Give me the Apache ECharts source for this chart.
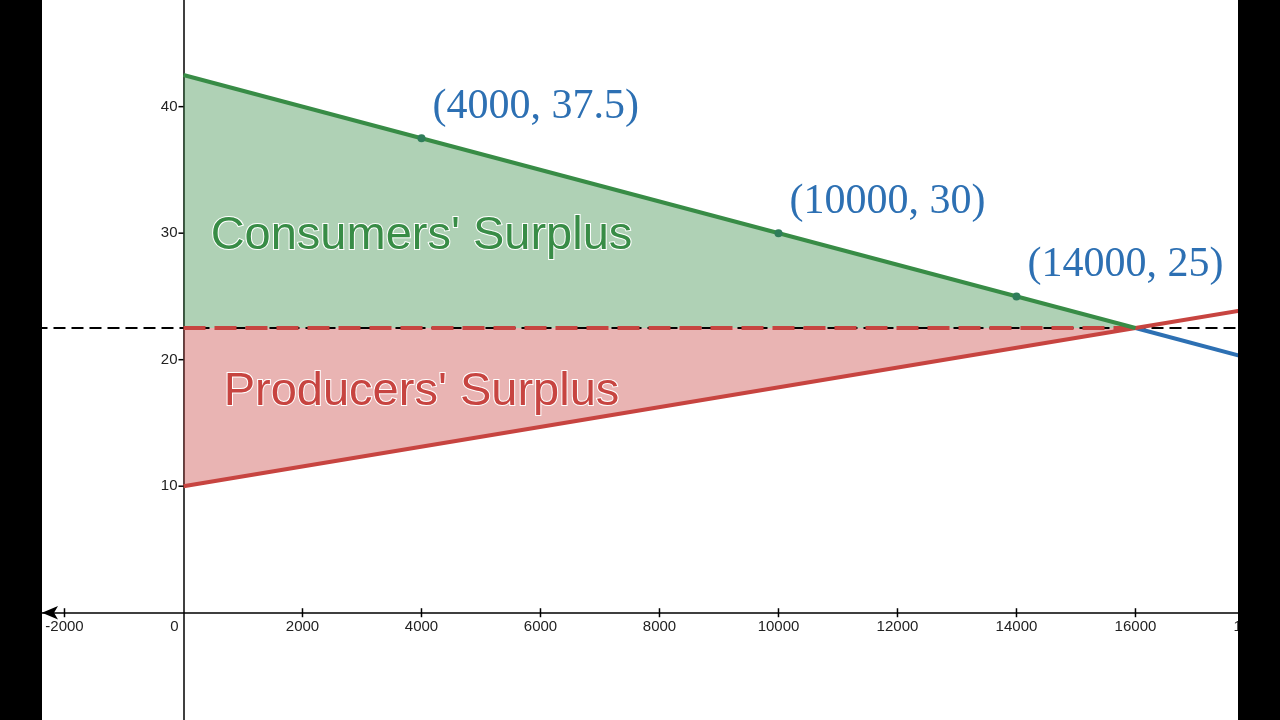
<!DOCTYPE html>
<html>
<head>
<meta charset="utf-8">
<script src="https://cdn.jsdelivr.net/npm/echarts@6/dist/echarts.min.js"></script>
<style>
html, body { margin: 0; padding: 0; background: #000; }
#chart { width: 1280px; height: 720px; }
</style>
</head>
<body>
<div id="chart"></div>
<script>
var xTicks = [-2000, 0, 2000, 4000, 6000, 8000, 10000, 12000, 14000, 16000, 18000];
var yTicks = [10, 20, 30, 40];
var price = 22.5;
var demandPts = [[0, 42.5], [16000, 22.5]];
var demandTail = [[16000, 22.5], [20000, 17.5]];
var supplyPts = [[0, 10], [16000, 22.5], [20000, 25.625]];
var markedPts = [[4000, 37.5], [10000, 30], [14000, 25]];
var surplusText = [
	{ name: "Consumers' Surplus", value: [4000, 30], color: '#388c46' },
	{ name: "Producers' Surplus", value: [4000, 17.7], color: '#c74440' }
];

var green = '#388c46', red = '#c74440', blue = '#2d70b3';
var axisFont = 'Liberation Sans, Arial, sans-serif';

var myChart = echarts.init(document.getElementById('chart'));

var option = {
	backgroundColor: '#fff',
	animation: false,
	grid: { left: 42, right: 0, top: 0, bottom: 0, containLabel: false, outerBoundsMode: 'none' },
	xAxis: {
		type: 'value',
		min: -2378,
		max: 18429,
		splitLine: { show: false },
		axisLine: { onZero: true, lineStyle: { color: '#000', width: 1.5 }, symbol: ['arrow', 'none'], symbolSize: [10, 16] },
		axisTick: { show: false },
		axisLabel: { show: false }
	},
	yAxis: {
		type: 'value',
		min: -8.48,
		max: 48.43,
		splitLine: { show: false },
		axisLine: { onZero: true, lineStyle: { color: '#000', width: 1.5 } },
		axisTick: { show: false },
		axisLabel: { show: false }
	},
	series: [
		{
			// consumers' surplus area
			type: 'line', data: demandPts, symbol: 'none', z: 1,
			lineStyle: { width: 0 },
			areaStyle: { origin: price, color: green, opacity: 0.4 }
		},
		{
			// producers' surplus area
			type: 'line', data: supplyPts.slice(0, 2), symbol: 'none', z: 1,
			lineStyle: { width: 0 },
			areaStyle: { origin: price, color: red, opacity: 0.4 }
		},
		{
			type: 'line', data: [[-4000, price], [20000, price]], symbol: 'none', z: 2,
			lineStyle: { color: '#000', width: 2, type: [12, 6] }
		},
		{
			type: 'line', data: [[0, price], [16000, price]], symbol: 'none', z: 3,
			lineStyle: { color: red, width: 4, type: [22, 9] }
		},
		{
			type: 'line', data: demandTail, symbol: 'none', z: 4,
			lineStyle: { color: blue, width: 4 }
		},
		{
			type: 'line', data: supplyPts, symbol: 'none', z: 5,
			lineStyle: { color: red, width: 4 }
		},
		{
			type: 'line', data: demandPts, symbol: 'none', z: 6,
			lineStyle: { color: green, width: 4 }
		},
		{
			// x ticks + labels
			type: 'scatter', z: 9, symbol: 'rect', clip: false,
			itemStyle: { color: '#000', opacity: 1 },
			data: xTicks.map(function(v) {
				return {
					value: [v, 0],
					symbolSize: v === 0 ? 0 : [1.5, 9],
					label: { offset: v === 0 ? [-9, 4.5] : [0, 0] }
				};
			}),
			label: {
				show: true, position: 'bottom', distance: 2,
				color: '#222', fontFamily: axisFont, fontSize: 15,
				formatter: function(p) { return String(p.value[0]); }
			}
		},
		{
			// y ticks + labels
			type: 'scatter', z: 9, symbol: 'rect', symbolSize: [5, 1.5], symbolOffset: [-2.5, 0], clip: false,
			itemStyle: { color: '#000', opacity: 1 },
			data: yTicks.map(function(v) { return [0, v]; }),
			label: {
				show: true, position: 'left', distance: 1,
				color: '#222', fontFamily: axisFont, fontSize: 15,
				formatter: function(p) { return String(p.value[1]); }
			}
		},
		{
			type: 'scatter', data: markedPts, symbolSize: 8, z: 7,
			itemStyle: { color: '#2f7d5a', opacity: 1 },
			label: {
				show: true,
				position: 'right',
				offset: [2, -31],
				color: blue,
				fontFamily: 'Liberation Serif, serif',
				fontSize: 42,
				formatter: function(p) { return '(' + p.value[0] + ', ' + p.value[1] + ')'; }
			}
		},
		{
			type: 'scatter', symbolSize: 0, z: 8,
			itemStyle: { opacity: 1 },
			data: surplusText.map(function(d) {
				return {
					name: d.name, value: d.value,
					label: { color: d.color }
				};
			}),
			label: {
				show: true,
				position: 'inside',
				offset: [0, 3],
				formatter: '{b}',
				fontFamily: axisFont,
				fontSize: 47,
				textBorderColor: '#fff',
				textBorderWidth: 2
			}
		}
	],
	graphic: [
		{ type: 'rect', left: 0, top: 0, z: 100, shape: { width: 42, height: 720 }, style: { fill: '#000' } },
		{ type: 'rect', left: 1238, top: 0, z: 100, shape: { width: 42, height: 720 }, style: { fill: '#000' } }
	]
};

myChart.setOption(option);
</script>
</body>
</html>
